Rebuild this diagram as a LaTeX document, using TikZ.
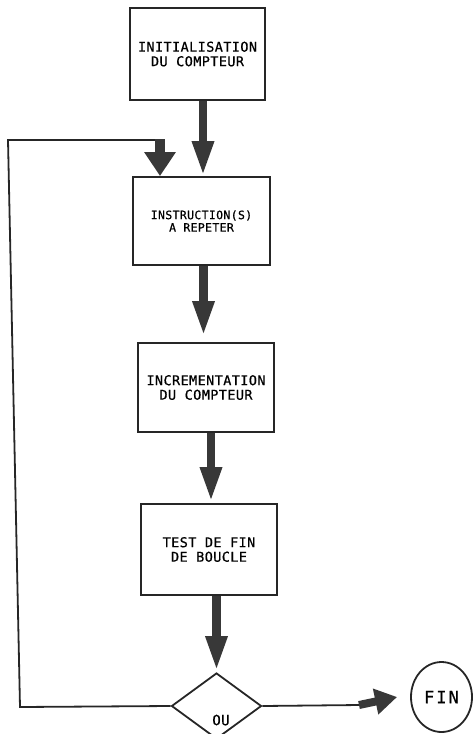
\documentclass[tikz,border=0pt]{standalone}
\usepackage{fontspec}
\usetikzlibrary{arrows.meta,shapes.geometric}
\definecolor{ink}{HTML}{262626}
\definecolor{arrowink}{HTML}{383838}
\newfontfamily\plotfont[FakeBold=0.7,LetterSpace=3]{DejaVu Sans Mono}
\newfontfamily\finfont[FakeBold=0.7,LetterSpace=12]{DejaVu Sans Mono}
\begin{document}
\begin{tikzpicture}[x=1pt,y=-1pt,
  box/.style={draw=ink, line width=1.8pt, rectangle, inner sep=0pt, align=center,
              font=\plotfont\fontsize{13.5}{14.5}\selectfont},
  thin/.style={draw=ink, line width=1.8pt, line join=miter},
  bigarrow/.style={draw=arrowink, line width=8.5pt,
              -{Triangle[length=35pt,width=20pt]}},
  looparrow/.style={draw=arrowink, line width=10pt,
              -{Triangle[length=24pt,width=30pt]}},
  endarrow/.style={draw=arrowink, line width=8pt,
              -{Triangle[length=22pt,width=25pt]}},
  decision/.style={draw=ink, line width=1.8pt, diamond, inner sep=0pt,
              minimum width=90pt, minimum height=66pt},
  terminal/.style={draw=ink, line width=1.8pt, ellipse, inner sep=0pt,
              minimum width=61pt, minimum height=70pt},
  lbl/.style={font=\plotfont\fontsize{14}{15}\selectfont, inner sep=0pt}
]
\useasboundingbox (0,0) rectangle (473,734);

% boxes
\node[box, minimum width=135pt, minimum height=92pt] (b1) at (197.5,54)
  {INITIALISATION\\DU COMPTEUR};
\node[box, minimum width=137pt, minimum height=88pt,
      font=\plotfont\fontsize{11.5}{12.5}\selectfont] (b2) at (201.5,221)
  {INSTRUCTION(S)\\A REPETER};
\node[box, minimum width=136pt, minimum height=89pt] (b3) at (206,387.5)
  {INCREMENTATION\\DU COMPTEUR};
\node[box, minimum width=136pt, minimum height=91pt] (b4) at (209,549.5)
  {TEST DE FIN\\DE BOUCLE};

% decision and end
\node[decision] (dec) at (216.5,706) {};
\node[lbl] (ou) at (221,720) {OU};
\node[terminal, font=\finfont\fontsize{17}{18}\selectfont] (fin) at (441.5,697) {FIN};

% loop coordinates
\coordinate (lb) at (20,707);
\coordinate (lt) at (8,140);
\coordinate (lr) at (160,140);
\coordinate (rr) at (360,705);

% main vertical arrows
\draw[bigarrow] ([xshift=5.5pt]b1.south) -- ([xshift=1.5pt]b2.north);
\draw[bigarrow] ([xshift=2pt]b2.south) -- ([xshift=-2.5pt,yshift=6pt]b3.north);
\draw[bigarrow] ([xshift=5pt]b3.south) -- ([xshift=2pt,yshift=1pt]b4.north);
\draw[bigarrow] ([xshift=7.5pt]b4.south) -- ([xshift=0pt,yshift=1pt]dec.north);

% loop back
\draw[thin] (dec.west) -- (lb) -- (lt) -- (lr);
\draw[looparrow] ([yshift=0.9pt]lr) -- (lr |- b2.north);

% exit
\draw[thin] (dec.east) -- (rr);
\draw[endarrow] ([xshift=-1pt]rr) -- ([xshift=-13pt]fin.west);
\end{tikzpicture}
\end{document}
